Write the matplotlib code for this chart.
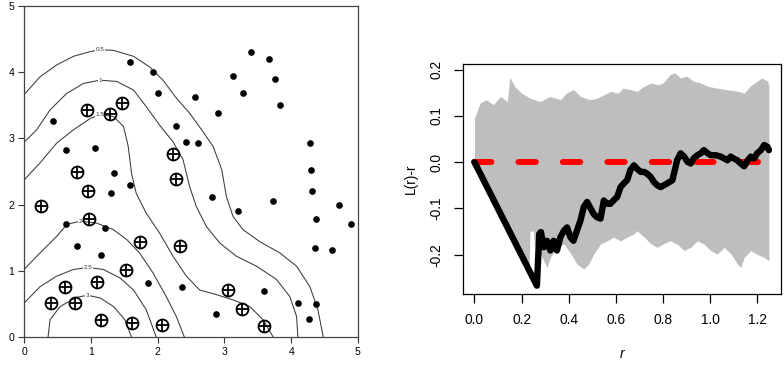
import matplotlib
matplotlib.use("Agg")
import matplotlib.pyplot as plt
import numpy as np

plt.rcParams['font.family'] = ['Liberation Sans', 'DejaVu Sans']
plt.rcParams['lines.scale_dashes'] = False

# ---------------- Left panel data ----------------
dots_x = [1.585, 1.93, 2.0, 2.56, 2.90, 2.27, 2.43, 2.60, 0.44, 0.63, 1.07, 1.34, 1.30, 1.585,
          2.81, 3.21, 3.73, 3.40, 3.67, 3.13, 3.28, 3.76, 3.83, 4.28, 4.30, 4.31, 4.71, 4.89,
          4.37, 4.36, 4.61, 0.63, 1.22, 0.79, 1.15, 1.86, 2.37, 3.59, 4.10, 4.37, 4.27, 2.88]
dots_y = [4.15, 4.0, 3.68, 3.62, 3.38, 3.18, 2.94, 2.93, 3.26, 2.82, 2.85, 2.48, 2.17, 2.29,
          2.12, 1.91, 2.06, 4.30, 4.20, 3.94, 3.68, 3.89, 3.50, 2.93, 2.52, 2.21, 1.99, 1.71,
          1.79, 1.34, 1.32, 1.71, 1.64, 1.37, 1.24, 0.81, 0.76, 0.70, 0.52, 0.50, 0.27, 0.34]

cross_x = [0.94, 1.29, 1.47, 0.79, 0.96, 0.25, 0.97, 2.23, 2.27, 1.74, 2.34, 1.525, 1.10,
           0.62, 0.41, 0.76, 1.15, 1.61, 2.06, 3.05, 3.26, 3.60]
cross_y = [3.43, 3.37, 3.53, 2.50, 2.20, 1.98, 1.78, 2.76, 2.39, 1.44, 1.38, 1.01, 0.835,
           0.755, 0.51, 0.51, 0.26, 0.21, 0.18, 0.71, 0.42, 0.16]

contour_levels = ["0.5", "1", "1.5", "2", "2.5", "3"]
c05_x = [0, 0.24, 0.49, 0.74, 0.99, 1.14, 1.34, 1.64, 1.88, 2.08, 2.28, 2.48, 2.68, 2.83, 2.96,
         3.03, 3.13, 3.28, 3.53, 3.83, 4.08, 4.28, 4.40, 4.48]
c05_y = [3.66, 3.93, 4.11, 4.24, 4.31, 4.34, 4.33, 4.24, 4.08, 3.88, 3.61, 3.38, 3.10, 2.88, 2.53,
         2.12, 1.82, 1.62, 1.44, 1.27, 1.07, 0.76, 0.41, 0.0]
c1_x = [0, 0.19, 0.39, 0.64, 0.89, 1.14, 1.39, 1.64, 1.83, 2.03, 2.23, 2.38, 2.48, 2.58, 2.73,
        2.93, 3.18, 3.48, 3.78, 3.98, 4.08, 4.10]
c1_y = [2.94, 3.13, 3.43, 3.68, 3.83, 3.88, 3.86, 3.73, 3.48, 3.20, 2.95, 2.68, 2.27, 1.97, 1.67,
        1.42, 1.22, 1.07, 0.87, 0.61, 0.31, 0.0]
c15_x = [0, 0.24, 0.49, 0.74, 0.99, 1.14, 1.34, 1.49, 1.56, 1.61, 1.68, 1.83, 2.03, 2.23, 2.43,
         2.63, 2.88, 3.13, 3.38, 3.58, 3.73]
c15_y = [2.37, 2.63, 2.93, 3.13, 3.30, 3.36, 3.33, 3.18, 2.88, 2.47, 2.17, 1.87, 1.57, 1.22, 0.92,
         0.71, 0.64, 0.56, 0.46, 0.26, 0.0]
c2_x = [0, 0.24, 0.49, 0.64, 0.84, 1.09, 1.34, 1.54, 1.73, 1.93, 2.13, 2.28, 2.40]
c2_y = [1.02, 1.27, 1.52, 1.70, 1.75, 1.72, 1.62, 1.47, 1.27, 0.97, 0.61, 0.31, 0.0]
c25_x = [0, 0.24, 0.49, 0.74, 0.96, 1.19, 1.44, 1.64, 1.83, 1.98]
c25_y = [0.51, 0.76, 0.92, 1.02, 1.05, 1.02, 0.89, 0.71, 0.41, 0.0]
c3_x = [0.36, 0.39, 0.54, 0.79, 0.95, 1.14, 1.34, 1.51, 1.61]
c3_y = [0.0, 0.26, 0.46, 0.60, 0.63, 0.59, 0.46, 0.26, 0.0]
contours_x = [c05_x, c1_x, c15_x, c2_x, c25_x, c3_x]
contours_y = [c05_y, c1_y, c15_y, c2_y, c25_y, c3_y]
label_index = [5, 5, 5, 4, 4, 4]

# ---------------- Right panel data ----------------
env_r_up = [0, 0.024, 0.05, 0.08, 0.11, 0.14, 0.15, 0.17, 0.20, 0.237, 0.28, 0.32, 0.365, 0.39,
            0.42, 0.45, 0.49, 0.52, 0.55, 0.58, 0.61, 0.63, 0.66, 0.69, 0.72, 0.75, 0.78, 0.80,
            0.83, 0.85, 0.875, 0.90, 0.93, 0.96, 0.99, 1.03, 1.07, 1.12, 1.145, 1.17, 1.20,
            1.22, 1.245, 1.25]
env_up = [0.095, 0.128, 0.135, 0.124, 0.142, 0.131, 0.184, 0.164, 0.149, 0.138, 0.131, 0.142,
          0.135, 0.149, 0.157, 0.142, 0.135, 0.138, 0.146, 0.153, 0.149, 0.160, 0.157, 0.153,
          0.164, 0.171, 0.167, 0.171, 0.189, 0.193, 0.182, 0.186, 0.175, 0.171, 0.164, 0.160,
          0.157, 0.153, 0.149, 0.164, 0.175, 0.182, 0.175, 0.164]
env_r_lo = [0, 0.232, 0.236, 0.25, 0.254, 0.265, 0.294, 0.308, 0.322, 0.35, 0.38, 0.41, 0.435,
            0.464, 0.485, 0.506, 0.535, 0.563, 0.59, 0.62, 0.648, 0.677, 0.69, 0.72, 0.75,
            0.776, 0.80, 0.83, 0.86, 0.89, 0.918, 0.946, 0.974, 1.003, 1.03, 1.06, 1.09, 1.116,
            1.13, 1.145, 1.173, 1.20, 1.23, 1.25]
env_lo = [0, -0.232, -0.15, -0.148, -0.18, -0.184, -0.213, -0.228, -0.206, -0.184, -0.177,
          -0.199, -0.220, -0.231, -0.220, -0.199, -0.177, -0.170, -0.162, -0.170, -0.162,
          -0.155, -0.148, -0.162, -0.177, -0.184, -0.177, -0.170, -0.177, -0.191, -0.184,
          -0.170, -0.177, -0.191, -0.199, -0.184, -0.199, -0.220, -0.228, -0.206, -0.191,
          -0.199, -0.206, -0.213]

obs_r = [0, 0.265, 0.275, 0.282, 0.294, 0.308, 0.322, 0.336, 0.35, 0.365, 0.38, 0.393, 0.407,
         0.42, 0.435, 0.45, 0.464, 0.478, 0.49, 0.506, 0.52, 0.535, 0.549, 0.563, 0.577, 0.59,
         0.606, 0.62, 0.634, 0.648, 0.662, 0.677, 0.69, 0.705, 0.72, 0.733, 0.748, 0.762,
         0.776, 0.79, 0.804, 0.818, 0.84, 0.854, 0.86, 0.875, 0.89, 0.904, 0.918, 0.93, 0.946,
         0.96, 0.974, 0.99, 1.003, 1.024, 1.045, 1.06, 1.074, 1.088, 1.10, 1.116, 1.13, 1.145,
         1.16, 1.173, 1.187, 1.20, 1.216, 1.23, 1.244, 1.25]
obs_val = [0, -0.267, -0.155, -0.151, -0.184, -0.170, -0.191, -0.170, -0.191, -0.162, -0.148,
           -0.141, -0.162, -0.170, -0.148, -0.126, -0.097, -0.086, -0.097, -0.112, -0.119,
           -0.122, -0.083, -0.090, -0.090, -0.083, -0.075, -0.054, -0.046, -0.039, -0.017,
           -0.007, -0.014, -0.021, -0.021, -0.025, -0.032, -0.043, -0.050, -0.054, -0.050,
           -0.046, -0.039, -0.010, 0.004, 0.019, 0.012, 0.001, -0.003, 0.008, 0.015, 0.019,
           0.026, 0.019, 0.015, 0.015, 0.012, 0.008, 0.004, 0.012, 0.008, 0.004, -0.003,
           -0.009, 0.004, 0.012, 0.008, 0.019, 0.026, 0.037, 0.033, 0.026]
theo_r = [0, 1.25]
theo_val = [0, 0]

x_ticks_right = [0.0, 0.2, 0.4, 0.6, 0.8, 1.0, 1.2]
y_ticks_right = [-0.2, -0.1, 0.0, 0.1, 0.2]

# ---------------- Figure ----------------
W, H = 784, 365
fig = plt.figure(figsize=(W / 100, H / 100), dpi=100)

# Left panel
ax1 = fig.add_axes([24 / W, 1 - 337 / H, (358 - 24) / W, (337 - 6) / H])
for cx, cy, lab, li in zip(contours_x, contours_y, contour_levels, label_index):
    ax1.plot(cx, cy, color='#3a3a3a', lw=0.75, zorder=1)
    ax1.text(cx[li], cy[li], lab, fontsize=4.5, ha='center', va='center', color='#333333',
             bbox=dict(facecolor='white', edgecolor='none', pad=0.3), zorder=2)
ax1.plot(dots_x, dots_y, 'o', color='black', ms=4.8, mew=0, zorder=3)
ax1.plot(cross_x, cross_y, 'o', mfc='none', mec='black', ms=8.6, mew=1.3, zorder=3)
ax1.plot(cross_x, cross_y, '+', color='black', ms=8.6, mew=1.3, zorder=3)
ax1.set_xlim(0, 5)
ax1.set_ylim(0, 5)
ax1.set_xticks(range(6))
ax1.set_yticks(range(6))
ax1.tick_params(length=4, width=0.8, labelsize=7.6, pad=3, color='#333333')
for s in ax1.spines.values():
    s.set_color('#444444')
    s.set_linewidth(0.9)

# Right panel
ax2 = fig.add_axes([462.7 / W, 1 - 294 / H, (780.7 - 462.7) / W, (294 - 64.3) / H])
r_grid = np.union1d(env_r_up, env_r_lo)
up_i = np.interp(r_grid, env_r_up, env_up)
lo_i = np.interp(r_grid, env_r_lo, env_lo)
ax2.fill_between(r_grid, lo_i, up_i, color='#bebebe', lw=0, zorder=1)
ax2.plot(theo_r, theo_val, color='red', lw=4.3, dashes=(12.5, 19.5),
         dash_capstyle='round', zorder=2)
ax2.plot(obs_r, obs_val, color='black', lw=4.6, solid_capstyle='round',
         solid_joinstyle='round', zorder=3)
ax2.set_xlim(-0.05, 1.30)
ax2.set_ylim(-0.285, 0.2115)
ax2.set_xticks(x_ticks_right)
ax2.set_xticklabels([f"{v:.1f}" for v in x_ticks_right])
ax2.set_yticks(y_ticks_right)
ax2.set_yticklabels([f"{v:.1f}" for v in y_ticks_right], rotation=90, va='center')
ax2.tick_params(length=6.5, width=0.9, labelsize=9.9, pad=7.5)
ax2.set_ylabel("L(r)-r", fontsize=9.9, labelpad=8)
ax2.set_xlabel("r", fontsize=9.9, style='italic', labelpad=14)
for s in ax2.spines.values():
    s.set_color('black')
    s.set_linewidth(0.9)

fig.savefig("out.png", dpi=100)
